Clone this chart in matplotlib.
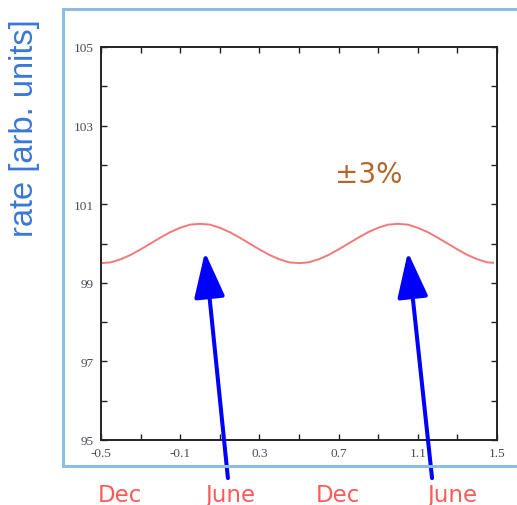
import matplotlib
matplotlib.use("Agg")
import matplotlib.pyplot as plt
from matplotlib.patches import FancyArrowPatch, ArrowStyle
from matplotlib.lines import Line2D

# ---- data ----
phase = [-0.50, -0.45, -0.40, -0.35, -0.30, -0.25, -0.20, -0.15, -0.10, -0.05,
         0.00, 0.05, 0.10, 0.15, 0.20, 0.25, 0.30, 0.35, 0.40, 0.45,
         0.50, 0.55, 0.60, 0.65, 0.70, 0.75, 0.80, 0.85, 0.90, 0.95,
         1.00, 1.05, 1.10, 1.15, 1.20, 1.25, 1.30, 1.35, 1.40, 1.45, 1.48]
rate = [99.50, 99.52, 99.60, 99.71, 99.85, 100.00, 100.15, 100.29, 100.40, 100.48,
        100.50, 100.48, 100.40, 100.29, 100.15, 100.00, 99.85, 99.71, 99.60, 99.52,
        99.50, 99.52, 99.60, 99.71, 99.85, 100.00, 100.15, 100.29, 100.40, 100.48,
        100.50, 100.48, 100.40, 100.29, 100.15, 100.00, 99.85, 99.71, 99.60, 99.52, 99.51]
xtick_labels = ["-0.5", "-0.1", "0.3", "0.7", "1.1", "1.5"]
ytick_labels = ["95", "97", "99", "101", "103", "105"]
month_labels = ["Dec", "June", "Dec", "June"]
annotation_text = "\u00b13%"
ylabel_text = "rate [arb. units]"

W, H = 517, 506
plt.rcParams['axes.unicode_minus'] = False
fig = plt.figure(figsize=(W / 100, H / 100), dpi=100)
fig.patch.set_facecolor("white")

ax = fig.add_axes([101 / W, 1 - 441 / H, (497 - 101) / W, (441 - 48) / H])
ax.plot(phase, rate, color="#f06a6a", lw=1.4, alpha=0.9)
ax.set_xlim(-0.5, 1.5)
ax.set_ylim(95, 105)

ax.set_xticks([float(s) for s in xtick_labels])
ax.set_xticklabels(xtick_labels)
ax.set_xticks([-0.3, 0.1, 0.5, 0.9, 1.3], minor=True)
ax.set_yticks([float(s) for s in ytick_labels])
ax.set_yticklabels(ytick_labels)
ax.set_yticks([96, 98, 100, 102, 104], minor=True)

for which in ("major", "minor"):
    ax.tick_params(axis="both", which=which, direction="in", length=4.5, width=1.0,
                   top=True, right=True, color="#222222")
ax.tick_params(axis="both", which="major", labelsize=9.5, labelcolor="#4a4a5a", pad=5)
for lab in ax.get_xticklabels() + ax.get_yticklabels():
    lab.set_family("Liberation Serif")
for s in ax.spines.values():
    s.set_linewidth(1.4)
    s.set_color("#222222")

# brown annotation
fig.text(368.5 / W, 1 - 175 / H, annotation_text, fontsize=20, color="#b0692c",
         ha="center", va="center", family="DejaVu Sans")

# blue arrows (tip/tail in data coordinates)
style = ArrowStyle("-|>", head_length=28, head_width=9.5)
for (x0, y0), (x1, y1) in [((0.141, 94.03), (0.025, 99.78)),
                           ((1.172, 94.03), (1.05, 99.78))]:
    arr = FancyArrowPatch((x0, y0), (x1, y1), arrowstyle=style, mutation_scale=1,
                          color="#0000ff", lw=2.9, shrinkA=0, shrinkB=0,
                          transform=ax.transData, clip_on=False, zorder=5)
    ax.add_patch(arr)

# light-blue frame (open on the right edge)
fc = "#8dbde0"
fx0, fy_top, fy_bot = 63 / W, 1 - 10 / H, 1 - 467 / H
fig.add_artist(Line2D([fx0, 1.01], [fy_top, fy_top], color=fc, lw=2.2, transform=fig.transFigure))
fig.add_artist(Line2D([fx0, 1.01], [fy_bot, fy_bot], color=fc, lw=2.2, transform=fig.transFigure))
fig.add_artist(Line2D([fx0, fx0], [fy_bot, fy_top], color=fc, lw=2.2, transform=fig.transFigure))

# month labels
for lab, xc in zip(month_labels, [119.5, 230, 337.5, 452]):
    fig.text(xc / W, 4 / H, lab, fontsize=16.5, color="#ff5a5a", ha="center",
             va="baseline", family="DejaVu Sans")

# y label
fig.text(25 / W, 1 - 128 / H, ylabel_text, rotation=90, fontsize=23.5, color="#3a78d6",
         ha="center", va="center", family="Liberation Sans")

fig.savefig("out.png", dpi=100)
